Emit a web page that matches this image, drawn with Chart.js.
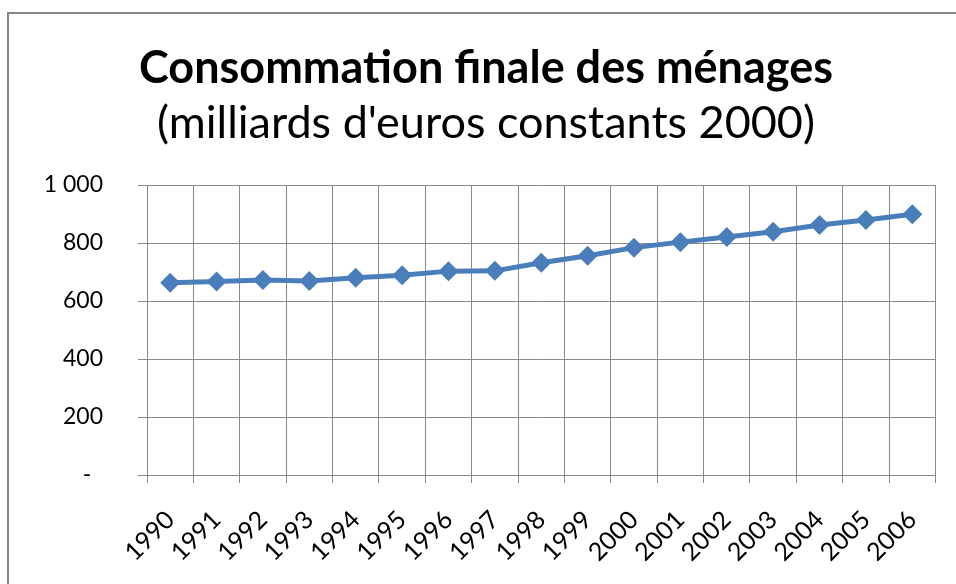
<!DOCTYPE html>
<html>
<head>
<meta charset="utf-8">
<script src="https://cdn.jsdelivr.net/npm/chart.js@4/dist/chart.umd.min.js"></script>
<style>
  html, body { margin: 0; padding: 0; background: #fff; }
  #wrap { position: relative; width: 956px; height: 584px; overflow: hidden; }
  #frame { position: absolute; left: 7px; top: 12px; width: 1000px; height: 700px; border: 2px solid #868686; box-sizing: border-box; }
  canvas { position: absolute; left: 0; top: 0; }
</style>
</head>
<body>
<div id="wrap">
  <div id="frame"></div>
  <canvas id="chart" width="956" height="584"></canvas>
</div>
<script>
// Consommation finale des ménages - line chart

const years = ['1990', '1991', '1992', '1993', '1994', '1995', '1996', '1997', '1998',
               '1999', '2000', '2001', '2002', '2003', '2004', '2005', '2006'];
const consumption = [663, 667, 672, 669, 680, 689, 703, 704, 732, 756, 784, 803, 821, 839, 862, 879, 899];
const yTicks = [0, 200, 400, 600, 800, 1000];

const titleText = 'Consommation finale des ménages';
const subtitleText = "(milliards d'euros constants 2000)";

const FONT = 'Lato, "Open Sans", sans-serif';
const GRID = '#8a8a8a';

function formatTick(v) {
    if (v === 0) return '-\u00a0\u00a0';
    return v.toLocaleString('en-US').replace(/,/g, ' ');
}

const ctx = document.getElementById('chart').getContext('2d');
new Chart(ctx, {
    type: 'line',
    data: {
        labels: years,
        datasets: [{
            data: consumption,
            borderColor: '#4A7EBB',
            backgroundColor: '#4A7EBB',
            borderWidth: 5,
            pointStyle: 'rectRot',
            pointRadius: 10,
            pointHoverRadius: 10,
            pointBorderWidth: 0,
            tension: 0
        }]
    },
    options: {
        responsive: false,
        animation: false,
        // left padding a bit larger so the titles sit centred like the original
        layout: { padding: { left: 32, right: 16, top: 0, bottom: 0 } },
        plugins: {
            legend: { display: false },
            tooltip: { enabled: false },
            title: {
                display: true,
                text: titleText,
                color: '#000',
                font: { family: FONT, size: 45, weight: 'bold', lineHeight: 1.2 },
                padding: { top: 41, bottom: 0 }
            },
            subtitle: {
                display: true,
                text: subtitleText,
                color: '#000',
                font: { family: FONT, size: 45, weight: 'normal', lineHeight: 1.2 },
                padding: { top: 1, bottom: 35 }
            }
        },
        scales: {
            x: {
                offset: true,
                grid: { offset: true, color: GRID, lineWidth: 1, tickLength: 8, drawTicks: true },
                border: { color: GRID },
                ticks: {
                    color: '#000',
                    font: { family: FONT, size: 25 },
                    minRotation: 45,
                    maxRotation: 45,
                    autoSkip: false,
                    padding: 22
                },
                afterFit: s => { s.height = 109; }
            },
            y: {
                min: 0,
                max: 1000,
                afterBuildTicks: s => { s.ticks = yTicks.map(v => ({ value: v })); },
                grid: { color: GRID, lineWidth: 1, tickLength: 9 },
                border: { color: GRID },
                ticks: {
                    color: '#000',
                    font: { family: FONT, size: 23 },
                    padding: 35,
                    callback: v => formatTick(v)
                },
                afterFit: s => { s.width = 115; }
            }
        }
    }
});
</script>
</body>
</html>
